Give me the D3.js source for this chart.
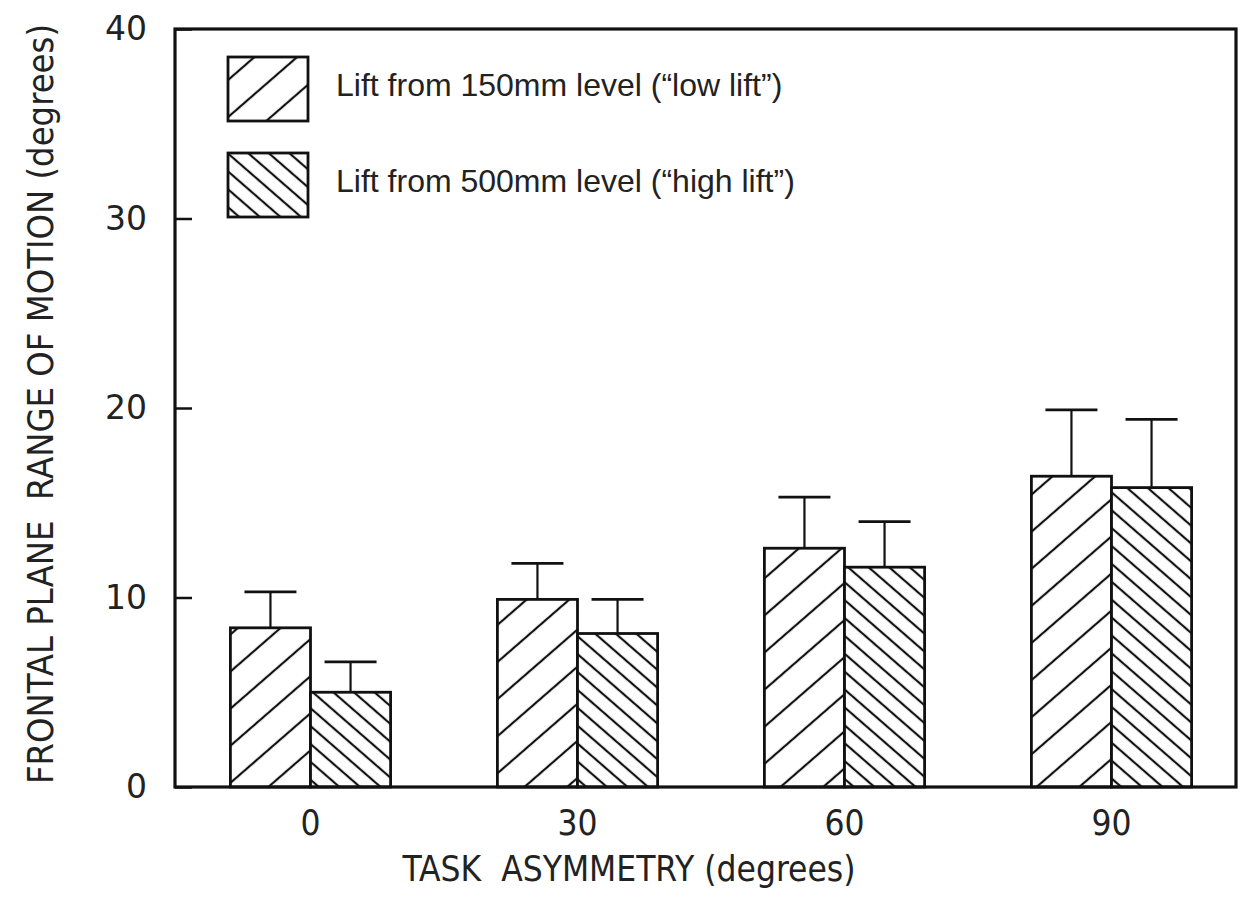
<!DOCTYPE html>
<html>
<head>
<meta charset="utf-8">
<script src="https://cdn.jsdelivr.net/npm/d3@7"></script>
<style>
  html, body { margin: 0; padding: 0; background: #fff; }
  svg { display: block; }
  .narrow { font-family: "Liberation Sans Narrow", "DejaVu Sans Condensed", "Arial Narrow", sans-serif; }
</style>
</head>
<body>
<svg id="chart" width="1243" height="906"></svg>
<script>
// Task asymmetry conditions (degrees)
const categories = ["0", "30", "60", "90"];
const seriesKeys = ["low", "high"];
const seriesLabels = [
  "Lift from 150mm level (\u201Clow lift\u201D)",
  "Lift from 500mm level (\u201Chigh lift\u201D)"
];
// Frontal plane range of motion, mean and standard deviation (degrees)
const lowLiftMean  = [8.4, 9.9, 12.6, 16.4];
const lowLiftSD    = [1.9, 1.9, 2.7, 3.5];
const highLiftMean = [5.0, 8.1, 11.6, 15.8];
const highLiftSD   = [1.6, 1.8, 2.4, 3.6];
const yTicks = [0, 10, 20, 30, 40];

const xTitle = "TASK\u00A0\u00A0ASYMMETRY (degrees)";
const yTitle = "FRONTAL PLANE\u00A0\u00A0RANGE OF MOTION (degrees)";

const W = 1243, H = 906;
const frame = { left: 175, right: 1236, top: 29, bottom: 787 };

const svg = d3.select("#chart");
svg.append("rect").attr("width", W).attr("height", H).attr("fill", "#fff");

// Hatch patterns: wide "/" for low lift, dense "\" for high lift
const defs = svg.append("defs");
function hatch(id, spacing, angle) {
  const p = defs.append("pattern")
    .attr("id", id)
    .attr("patternUnits", "userSpaceOnUse")
    .attr("width", 20)
    .attr("height", spacing)
    .attr("patternTransform", `rotate(${angle})`);
  p.append("rect").attr("width", 20).attr("height", spacing).attr("fill", "#fff");
  p.append("line")
    .attr("x1", 0).attr("x2", 20)
    .attr("y1", spacing / 2).attr("y2", spacing / 2)
    .attr("stroke", "#111").attr("stroke-width", 2.2);
}
hatch("hatch-low", 28, -41);
hatch("hatch-high", 13.5, 41);
const fillFor = { low: "url(#hatch-low)", high: "url(#hatch-high)" };

// Scales
const x = d3.scaleBand()
  .domain(categories)
  .range([177, 1245])
  .paddingInner(0.4)
  .paddingOuter(0.2);
const xSub = d3.scaleBand()
  .domain(seriesKeys)
  .range([0, x.bandwidth()]);
const y = d3.scaleLinear()
  .domain([0, 40])
  .range([frame.bottom, frame.top]);

const data = categories.flatMap((c, i) => [
  { cat: c, key: "low",  mean: lowLiftMean[i],  sd: lowLiftSD[i] },
  { cat: c, key: "high", mean: highLiftMean[i], sd: highLiftSD[i] }
]);

// Error bars (upper half only)
const capW = 52;
const err = svg.append("g").attr("stroke", "#111").attr("fill", "none");
data.forEach(d => {
  const cx = x(d.cat) + xSub(d.key) + xSub.bandwidth() / 2;
  err.append("line")
    .attr("x1", cx).attr("x2", cx)
    .attr("y1", y(d.mean)).attr("y2", y(d.mean + d.sd))
    .attr("stroke-width", 2.2);
  err.append("line")
    .attr("x1", cx - capW / 2).attr("x2", cx + capW / 2)
    .attr("y1", y(d.mean + d.sd)).attr("y2", y(d.mean + d.sd))
    .attr("stroke-width", 2.8);
});

// Bars
svg.append("g")
  .selectAll("rect")
  .data(data)
  .join("rect")
  .attr("x", d => x(d.cat) + xSub(d.key))
  .attr("y", d => y(d.mean))
  .attr("width", xSub.bandwidth())
  .attr("height", d => y(0) - y(d.mean))
  .attr("fill", d => fillFor[d.key])
  .attr("stroke", "#111")
  .attr("stroke-width", 2.8);

// Y axis: inward ticks, labels outside
const yAxis = d3.axisLeft(y)
  .tickValues(yTicks)
  .tickSize(-17)
  .tickPadding(28)
  .tickFormat(d3.format("d"));
const gy = svg.append("g")
  .attr("transform", `translate(${frame.left},0)`)
  .call(yAxis);
gy.select(".domain").remove();
gy.selectAll(".tick line").attr("stroke", "#111").attr("stroke-width", 2.5);
gy.selectAll(".tick text")
  .attr("fill", "#222")
  .attr("font-family", "'DejaVu Sans', sans-serif")
  .attr("font-size", 33);

// X axis labels
const xAxis = d3.axisBottom(x).tickSize(0).tickPadding(23);
const gx = svg.append("g")
  .attr("transform", `translate(0,${frame.bottom})`)
  .call(xAxis);
gx.select(".domain").remove();
gx.selectAll(".tick text")
  .attr("class", "narrow")
  .attr("fill", "#222")
  .attr("font-size", 35);

// Plot frame
svg.append("rect")
  .attr("x", frame.left).attr("y", frame.top)
  .attr("width", frame.right - frame.left)
  .attr("height", frame.bottom - frame.top)
  .attr("fill", "none")
  .attr("stroke", "#111")
  .attr("stroke-width", 3.2);

// Axis titles
svg.append("text")
  .attr("class", "narrow")
  .attr("x", 629).attr("y", 881)
  .attr("text-anchor", "middle")
  .attr("font-size", 35)
  .attr("fill", "#222")
  .text(xTitle);

svg.append("text")
  .attr("class", "narrow")
  .attr("transform", "translate(53,404) rotate(-90)")
  .attr("text-anchor", "middle")
  .attr("font-size", 36)
  .attr("fill", "#222")
  .text(yTitle);

// Legend
const legend = svg.append("g");
const legendRows = [
  { key: "low",  label: seriesLabels[0], top: 57 },
  { key: "high", label: seriesLabels[1], top: 153 }
];
legendRows.forEach(r => {
  legend.append("rect")
    .attr("x", 228).attr("y", r.top)
    .attr("width", 80).attr("height", 64)
    .attr("fill", fillFor[r.key])
    .attr("stroke", "#111")
    .attr("stroke-width", 2.8);
  legend.append("text")
    .attr("x", 336).attr("y", r.top + 39)
    .attr("font-family", "'Liberation Sans', Arial, sans-serif")
    .attr("font-size", 32)
    .attr("fill", "#222")
    .text(r.label);
});
</script>
</body>
</html>
